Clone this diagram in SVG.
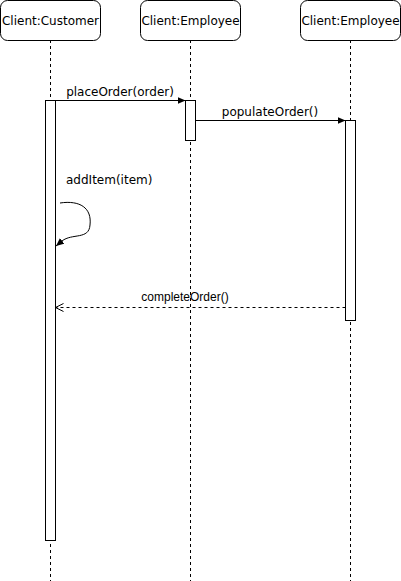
<svg xmlns="http://www.w3.org/2000/svg" width="401" height="581" viewBox="0 0 401 581">
<style>
.box{fill:#fff;stroke:#000;stroke-width:1}
.life{stroke:#000;stroke-width:1;stroke-dasharray:3,3;fill:none}
.act{fill:#fff;stroke:#000;stroke-width:1}
.msg{stroke:#000;stroke-width:1;fill:none}
.ret{stroke:#000;stroke-width:1;fill:none;stroke-dasharray:3,3}
.t{font-family:"DejaVu Sans",Verdana,sans-serif;font-size:12px;fill:#000}
.t2{font-family:"Liberation Sans",Arial,sans-serif;font-size:12px;fill:#000}
</style>
<defs>
<marker id="fill" markerWidth="10" markerHeight="8" refX="8" refY="4" orient="auto" markerUnits="userSpaceOnUse">
<path d="M0,0.5 L8,4 L0,7.5 Z" fill="#000"/>
</marker>
<marker id="open" markerWidth="10" markerHeight="10" refX="8" refY="5" orient="auto" markerUnits="userSpaceOnUse">
<path d="M0,1 L8,5 L0,9" fill="none" stroke="#000" stroke-width="1"/>
</marker>
</defs>
<rect width="401" height="581" fill="#fff"/>
<g id="lifelines">
<line class="life" x1="50.5" y1="40" x2="50.5" y2="581"/>
<line class="life" x1="190.5" y1="40" x2="190.5" y2="581"/>
<line class="life" x1="350.5" y1="40" x2="350.5" y2="581"/>
</g>
<g id="customer">
<rect class="box" x="0.5" y="0.5" width="100" height="40" rx="7"/>
<text class="t" x="50.5" y="25" text-anchor="middle">Client:Customer</text>
</g>
<g id="employee1">
<rect class="box" x="140.5" y="0.5" width="100" height="40" rx="7"/>
<text class="t" x="190.5" y="25" text-anchor="middle">Client:Employee</text>
</g>
<g id="employee2">
<rect class="box" x="300.5" y="0.5" width="100" height="40" rx="7"/>
<text class="t" x="350.5" y="25" text-anchor="middle">Client:Employee</text>
</g>
<g id="activations">
<rect class="act" x="45.5" y="100.5" width="10" height="440"/>
<rect class="act" x="185.5" y="100.5" width="10" height="40"/>
<rect class="act" x="345.5" y="120.5" width="10" height="200"/>
</g>
<g id="connectors">
<line class="msg" x1="55.5" y1="100.5" x2="185.5" y2="100.5" marker-end="url(#fill)"/>
<text class="t" x="120" y="96" text-anchor="middle">placeOrder(order)</text>
<line class="msg" x1="195.5" y1="120.5" x2="345.5" y2="120.5" marker-end="url(#fill)"/>
<text class="t" x="270" y="116" text-anchor="middle">populateOrder()</text>
<text class="t" x="66" y="184">addItem(item)</text>
<path class="msg" d="M60,203 C80,200 92,208 90,225 C89,240 72,233 62,241 L56,246" marker-end="url(#fill)"/>
<line class="ret" x1="345.5" y1="307.5" x2="55.5" y2="307.5" marker-end="url(#open)"/>
<text class="t2" x="185" y="301" text-anchor="middle">completeOrder()</text>
</g>
</svg>
